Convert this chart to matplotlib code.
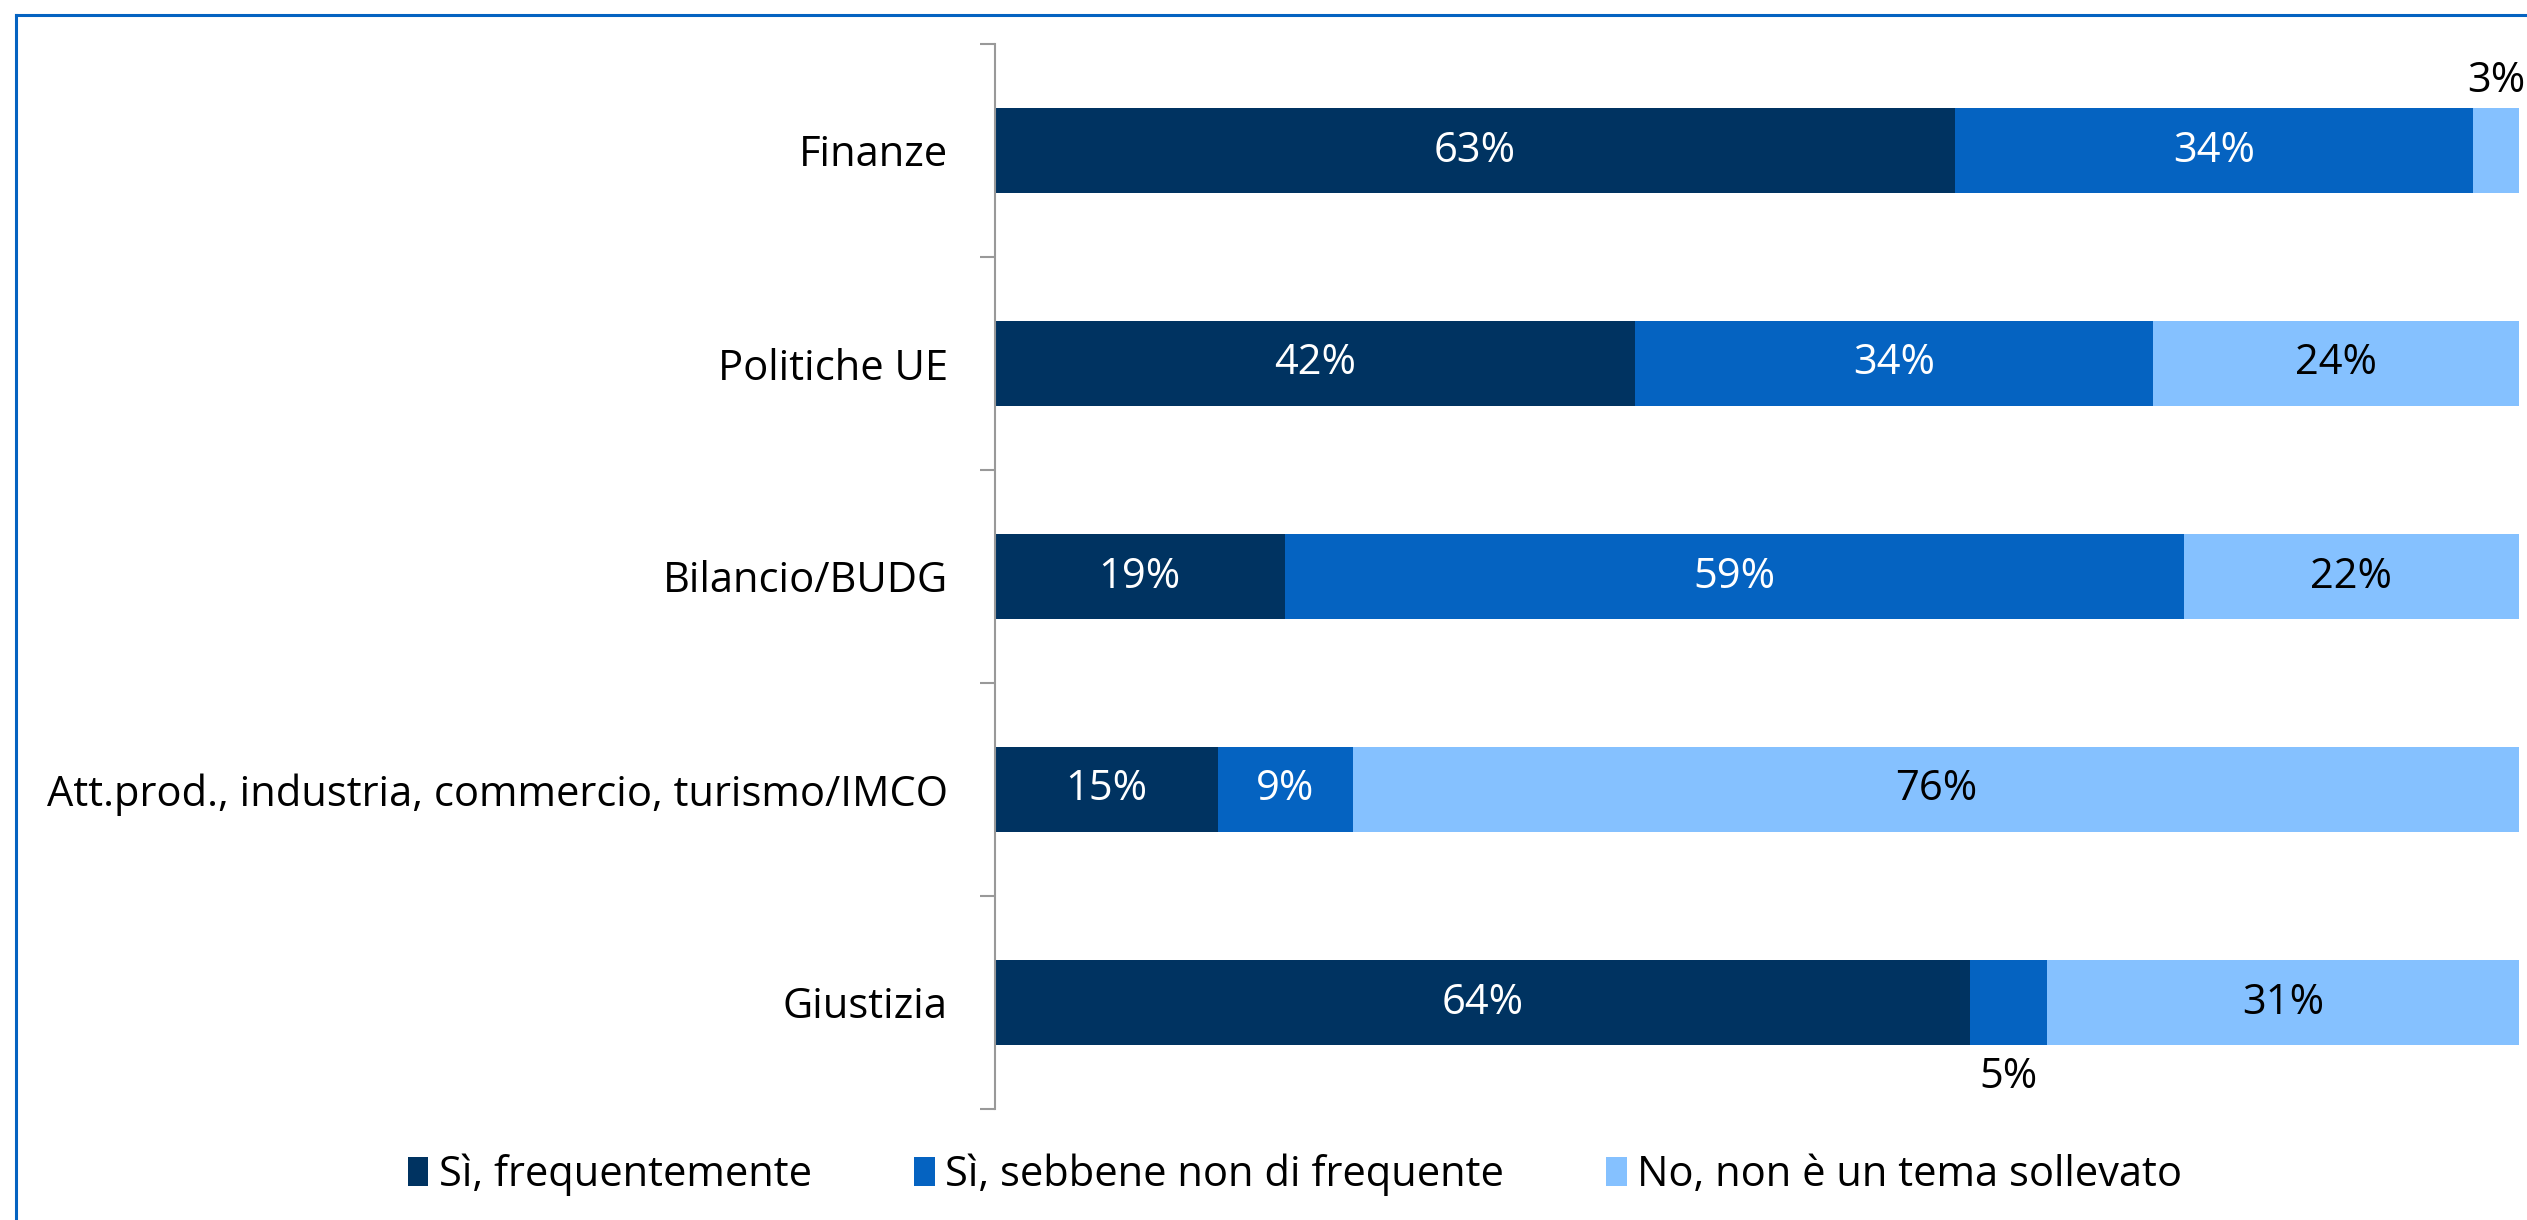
import matplotlib
matplotlib.use("Agg")
import matplotlib.pyplot as plt
from matplotlib.patches import Patch
from matplotlib.lines import Line2D
import numpy as np

categories = ['Finanze', 'Politiche UE', 'Bilancio/BUDG',
              'Att.prod., industria, commercio, turismo/IMCO', 'Giustizia']
freq = [63, 42, 19, 14.6, 64]
nonfreq = [34, 34, 59, 8.9, 5]
no = [3, 24, 22, 76.5, 31]
series_names = ['Sì, frequentemente', 'Sì, sebbene non di frequente',
                'No, non è un tema sollevato']
colors = ['#003361', '#0563C1', '#85C1FF']
label_colors = ['white', 'white', 'black']

plt.rcParams['font.family'] = ['Open Sans', 'DejaVu Sans']
FS = 30

fig = plt.figure(figsize=(25.27, 12.2), dpi=100)
W, H = 2527, 1220
ax = fig.add_axes([995 / W, 1 - 1109 / H, (2519 - 995) / W, (1109 - 44) / H])

y = np.arange(len(categories))
left = np.zeros(len(categories))
for vals, c, lc in zip([freq, nonfreq, no], colors, label_colors):
    vals = np.array(vals, dtype=float)
    ax.barh(y, vals, left=left, height=0.4, color=c, edgecolor='none')
    for i, (v, l) in enumerate(zip(vals, left)):
        txt = f"{v:.0f}%"
        cx = l + v / 2
        if v < 6:
            if i == 0:
                ax.text(cx, y[i] - 0.2 - 0.03, txt, ha='center', va='bottom',
                        fontsize=FS, color='black')
            else:
                ax.text(cx, y[i] + 0.2 + 0.05, txt, ha='center', va='top',
                        fontsize=FS, color='black')
        else:
            ax.text(cx, y[i], txt, ha='center', va='center', fontsize=FS, color=lc)
    left = left + vals

ax.set_xlim(0, 100)
ax.set_ylim(len(categories) - 0.5, -0.5)
ax.set_yticks(y)
ax.set_yticklabels(categories, fontsize=FS)
ax.set_yticks(np.arange(-0.5, len(categories)), minor=True)
ax.tick_params(axis='y', which='major', length=0, pad=34)
ax.tick_params(axis='y', which='minor', length=11, width=1.5, color='#999999')
ax.set_xticks([])
for s in ['top', 'right', 'bottom']:
    ax.spines[s].set_visible(False)
ax.spines['left'].set_color('#999999')
ax.spines['left'].set_linewidth(1.5)

handles = [Patch(facecolor=c, edgecolor='none') for c in colors]
fig.legend(handles, series_names, loc='center', bbox_to_anchor=(1295 / W, 1 - 1175 / H),
           ncol=3, frameon=False, fontsize=FS, handlelength=0.5, handleheight=0.7,
           handletextpad=0.25, columnspacing=2.45)

# blue frame (left and top edges visible)
fig.add_artist(Line2D([16 / W, 16 / W], [0, 1 - 15 / H], transform=fig.transFigure,
                      color='#0563C1', linewidth=2.2, solid_capstyle='projecting'))
fig.add_artist(Line2D([16 / W, 1], [1 - 15 / H, 1 - 15 / H], transform=fig.transFigure,
                      color='#0563C1', linewidth=2.2, solid_capstyle='projecting'))

fig.savefig('out.png', dpi=100, facecolor='white')
